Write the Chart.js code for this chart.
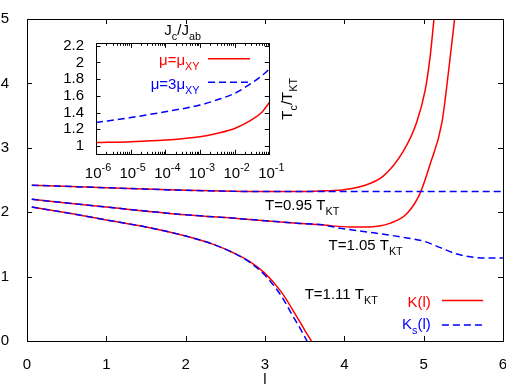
<!DOCTYPE html>
<html>
<head>
<meta charset="utf-8">
<script src="https://cdn.jsdelivr.net/npm/chart.js@4.4.1/dist/chart.umd.min.js"></script>
<style>
  html, body { margin: 0; padding: 0; background: #fff; }
  #wrap { position: relative; width: 506px; height: 385px; }
  #main { position: absolute; left: 0; top: 0; }
  #inset { position: absolute; left: 50px; top: 20px; }
</style>
</head>
<body>
<div id="wrap">
  <canvas id="main" width="506" height="385"></canvas>
  <canvas id="inset" width="250" height="170"></canvas>
</div>
<script>
// main plot: K(l) and Ks(l) for three temperatures
const l095 = [0.06, 1, 2, 3, 3.5, 3.82, 4.0, 4.24, 4.49, 4.74, 4.91, 5.02, 5.08, 5.13];
const k095 = [2.42, 2.38, 2.34, 2.32, 2.32, 2.335, 2.35, 2.41, 2.56, 2.94, 3.39, 3.9, 4.4, 5.0];
const lKs095 = [0.06, 1, 2, 3, 4, 5, 6];
const ks095 = [2.42, 2.38, 2.34, 2.32, 2.32, 2.32, 2.32];

const l105 = [0.06, 1, 2, 2.68, 3.4, 3.74, 4.07, 4.28, 4.58, 4.79, 4.95, 5.08, 5.23, 5.31, 5.39];
const k105 = [2.20, 2.08, 1.96, 1.90, 1.83, 1.80, 1.77, 1.77, 1.83, 1.98, 2.28, 2.74, 3.39, 4.15, 5.0];
const lKs105 = [0.06, 1, 2, 2.68, 3.4, 3.74, 3.95, 4.37, 4.79, 5.0, 5.21, 5.42, 5.63, 5.8, 6];
const ks105 = [2.20, 2.08, 1.96, 1.90, 1.83, 1.80, 1.75, 1.68, 1.60, 1.55, 1.45, 1.35, 1.30, 1.29, 1.29];

const l111 = [0.06, 0.5, 1, 1.5, 2, 2.35, 2.6, 2.8, 3.0, 3.2, 3.4, 3.5, 3.585];
const k111 = [2.08, 1.99, 1.88, 1.77, 1.63, 1.50, 1.37, 1.24, 1.05, 0.77, 0.38, 0.17, 0.0];
const lKs111 = [0.06, 0.5, 1, 1.5, 2, 2.35, 2.6, 2.8, 3.0, 3.2, 3.35, 3.45, 3.53];
const ks111 = [2.08, 1.99, 1.88, 1.77, 1.63, 1.50, 1.37, 1.23, 1.02, 0.71, 0.39, 0.18, 0.0];

const lTicks = [0, 1, 2, 3, 4, 5, 6];
const kTicks = [0, 1, 2, 3, 4, 5];

// inset: Tc/TKT vs Jc/Jab
const jRatio = [1e-6, 1e-5, 1e-4, 1e-3, 3e-3, 1e-2, 3e-2, 6e-2, 1e-1];
const tcMu1 = [1.04, 1.05, 1.07, 1.11, 1.15, 1.21, 1.31, 1.40, 1.52];
const tcMu3 = [1.28, 1.34, 1.41, 1.49, 1.55, 1.63, 1.75, 1.84, 1.92];
const insetYTicks = [1, 1.2, 1.4, 1.6, 1.8, 2, 2.2];
const insetDecades = [-6, -5, -4, -3, -2, -1];

const FONT = "'Liberation Sans', Arial, Helvetica, sans-serif";
const RED = '#ff0000';
const BLUE = '#0000ff';
const DASH = [7, 4];
const TICK_FONT = {family: FONT, size: 15};

Chart.defaults.font.family = FONT;
Chart.defaults.font.size = 15;
Chart.defaults.color = '#000';

function curve(xs, ys, color, dashed) {
  return {
    data: xs.map((x, i) => ({x, y: ys[i]})),
    borderColor: color,
    borderDash: dashed ? DASH : [],
    borderWidth: 1.5,
    pointRadius: 0,
    fill: false,
    order: dashed ? 0 : 1,
    cubicInterpolationMode: 'monotone',
  };
}

// text with sub/superscripts: parts = [{t, sub}, {t, sup}]
function drawRich(ctx, parts, x, y, opts = {}) {
  const size = opts.size || 15;
  const small = size * 0.72;
  let w = 0;
  for (const p of parts) {
    ctx.font = ((p.sub || p.sup) ? small : size) + 'px ' + FONT;
    w += ctx.measureText(p.t).width;
  }
  let cx = opts.align === 'right' ? x - w : opts.align === 'center' ? x - w / 2 : x;
  ctx.fillStyle = opts.color || '#000';
  ctx.textAlign = 'left';
  ctx.textBaseline = 'alphabetic';
  for (const p of parts) {
    ctx.font = ((p.sub || p.sup) ? small : size) + 'px ' + FONT;
    const dy = p.sub ? size * 0.33 : p.sup ? -size * 0.5 : 0;
    ctx.fillText(p.t, cx, y + dy);
    cx += ctx.measureText(p.t).width;
  }
}

function frame(ctx, a) {
  ctx.strokeRect(Math.round(a.left) + 0.5, Math.round(a.top) + 0.5,
    Math.round(a.right) - Math.round(a.left), Math.round(a.bottom) - Math.round(a.top));
}

function legendLine(ctx, x0, x1, y, color, dashed) {
  ctx.save();
  ctx.strokeStyle = color;
  ctx.lineWidth = 1.5;
  ctx.setLineDash(dashed ? DASH : []);
  ctx.beginPath();
  ctx.moveTo(x0, y);
  ctx.lineTo(x1, y);
  ctx.stroke();
  ctx.restore();
}

const mainDecor = {
  id: 'mainDecor',
  afterDraw(chart) {
    const {ctx, chartArea: a, scales: {x, y}} = chart;
    ctx.save();
    ctx.strokeStyle = '#000';
    ctx.lineWidth = 1;
    ctx.beginPath();
    for (const v of lTicks) {
      const px = Math.round(x.getPixelForValue(v)) + 0.5;
      ctx.moveTo(px, a.bottom); ctx.lineTo(px, a.bottom - 5);
      ctx.moveTo(px, a.top); ctx.lineTo(px, a.top + 5);
    }
    for (const v of kTicks) {
      const py = Math.round(y.getPixelForValue(v)) + 0.5;
      ctx.moveTo(a.left, py); ctx.lineTo(a.left + 5, py);
      ctx.moveTo(a.right, py); ctx.lineTo(a.right - 5, py);
    }
    ctx.stroke();
    frame(ctx, a);

    // axis title
    ctx.font = '15px ' + FONT;
    ctx.textAlign = 'center';
    ctx.fillStyle = '#000';
    ctx.fillText('l', x.getPixelForValue(3), 384);

    // curve labels
    drawRich(ctx, [{t: 'T=0.95 T'}, {t: 'KT', sub: true}], x.getPixelForValue(3.0), y.getPixelForValue(2.03));
    drawRich(ctx, [{t: 'T=1.05 T'}, {t: 'KT', sub: true}], x.getPixelForValue(3.8), y.getPixelForValue(1.42));
    drawRich(ctx, [{t: 'T=1.11 T'}, {t: 'KT', sub: true}], x.getPixelForValue(3.5), y.getPixelForValue(0.65));

    // legend
    const lx = x.getPixelForValue(5.09);
    drawRich(ctx, [{t: 'K(l)'}], lx, y.getPixelForValue(0.53), {align: 'right', color: RED});
    drawRich(ctx, [{t: 'K'}, {t: 's', sub: true}, {t: '(l)'}], lx, y.getPixelForValue(0.19), {align: 'right', color: BLUE});
    legendLine(ctx, x.getPixelForValue(5.23), x.getPixelForValue(5.75), y.getPixelForValue(0.63), RED, false);
    legendLine(ctx, x.getPixelForValue(5.23), x.getPixelForValue(5.75), y.getPixelForValue(0.25), BLUE, true);
    ctx.restore();
  }
};

new Chart(document.getElementById('main'), {
  type: 'line',
  data: {
    datasets: [
      curve(l095, k095, RED, false),
      curve(lKs095, ks095, BLUE, true),
      curve(l105, k105, RED, false),
      curve(lKs105, ks105, BLUE, true),
      curve(l111, k111, RED, false),
      curve(lKs111, ks111, BLUE, true),
    ]
  },
  options: {
    responsive: false,
    animation: false,
    devicePixelRatio: 1,
    layout: {padding: {top: 11, right: 3, left: 0, bottom: 0}},
    plugins: {legend: {display: false}, tooltip: {enabled: false}},
    scales: {
      x: {
        type: 'linear', min: 0, max: 6,
        grid: {display: false}, border: {display: false},
        afterBuildTicks(s) { s.ticks = lTicks.map(v => ({value: v})); },
        ticks: {padding: 7, maxRotation: 0, autoSkip: false, font: TICK_FONT, color: '#000', callback: v => String(v)},
        afterFit(s) { s.height = 44; s.paddingLeft = 0; s.paddingRight = 0; },
      },
      y: {
        type: 'linear', min: 0, max: 5,
        grid: {display: false}, border: {display: false},
        afterBuildTicks(s) { s.ticks = kTicks.map(v => ({value: v})); },
        ticks: {padding: 10, autoSkip: false, font: TICK_FONT, color: '#000', callback: v => String(v)},
        afterFit(s) { s.width = 27; },
      }
    }
  },
  plugins: [mainDecor]
});

const insetDecor = {
  id: 'insetDecor',
  afterDraw(chart) {
    const {ctx, chartArea: a, scales: {x, y}} = chart;
    ctx.save();
    ctx.strokeStyle = '#000';
    ctx.lineWidth = 1;
    ctx.beginPath();
    for (const d of insetDecades) {
      const px = Math.round(x.getPixelForValue(Math.pow(10, d))) + 0.5;
      ctx.moveTo(px, a.bottom); ctx.lineTo(px, a.bottom - 4.5);
      ctx.moveTo(px, a.top); ctx.lineTo(px, a.top + 4.5);
      if (d === -1) continue;
      for (let k = 2; k <= 9; k++) {
        const mx = Math.round(x.getPixelForValue(k * Math.pow(10, d))) + 0.5;
        ctx.moveTo(mx, a.bottom); ctx.lineTo(mx, a.bottom - 2.5);
        ctx.moveTo(mx, a.top); ctx.lineTo(mx, a.top + 2.5);
      }
    }
    for (const v of insetYTicks) {
      const py = Math.round(y.getPixelForValue(v)) + 0.5;
      ctx.moveTo(a.left, py); ctx.lineTo(a.left + 4.5, py);
      ctx.moveTo(a.right, py); ctx.lineTo(a.right - 4.5, py);
    }
    ctx.stroke();
    frame(ctx, a);

    // log tick labels 10^n
    for (const d of insetDecades) {
      drawRich(ctx, [{t: '10'}, {t: '-' + Math.abs(d), sup: true}],
        x.getPixelForValue(Math.pow(10, d)) + 2, a.bottom + 24, {align: 'center'});
    }

    // titles
    drawRich(ctx, [{t: 'J'}, {t: 'c', sub: true}, {t: '/J'}, {t: 'ab', sub: true}], (a.left + a.right) / 2, a.top - 8, {align: 'center'});
    ctx.save();
    ctx.translate(a.right + 22.5, (a.top + a.bottom) / 2);
    ctx.rotate(-Math.PI / 2);
    drawRich(ctx, [{t: 'T'}, {t: 'c', sub: true}, {t: '/T'}, {t: 'KT', sub: true}], 0, 0, {align: 'center'});
    ctx.restore();

    // legend
    drawRich(ctx, [{t: '\u03bc=\u03bc'}, {t: 'XY', sub: true}], a.left + 103.5, a.top + 21.7, {align: 'right', color: RED});
    drawRich(ctx, [{t: '\u03bc=3\u03bc'}, {t: 'XY', sub: true}], a.left + 103.5, a.top + 46, {align: 'right', color: BLUE});
    legendLine(ctx, a.left + 112, a.left + 154, a.top + 15.4, RED, false);
    legendLine(ctx, a.left + 112, a.left + 154, a.top + 39, BLUE, true);
    ctx.restore();
  }
};

new Chart(document.getElementById('inset'), {
  type: 'line',
  data: {
    datasets: [
      curve(jRatio, tcMu1, RED, false),
      curve(jRatio, tcMu3, BLUE, true),
    ]
  },
  options: {
    responsive: false,
    animation: false,
    devicePixelRatio: 1,
    layout: {padding: {top: 23.3, right: 30.7, left: 0, bottom: 0}},
    plugins: {legend: {display: false}, tooltip: {enabled: false}},
    scales: {
      x: {
        type: 'logarithmic', min: 1e-6, max: 1e-1,
        grid: {display: false}, border: {display: false},
        ticks: {display: false},
        afterFit(s) { s.height = 35.7; s.paddingLeft = 0; s.paddingRight = 0; },
      },
      y: {
        type: 'linear', min: 0.9, max: 2.23,
        grid: {display: false}, border: {display: false},
        afterBuildTicks(s) { s.ticks = insetYTicks.map(v => ({value: v})); },
        ticks: {padding: 4, autoSkip: false, font: TICK_FONT, color: '#000', callback: v => String(+v.toFixed(1))},
        afterFit(s) { s.width = 46; },
      }
    }
  },
  plugins: [insetDecor]
});
</script>
</body>
</html>
